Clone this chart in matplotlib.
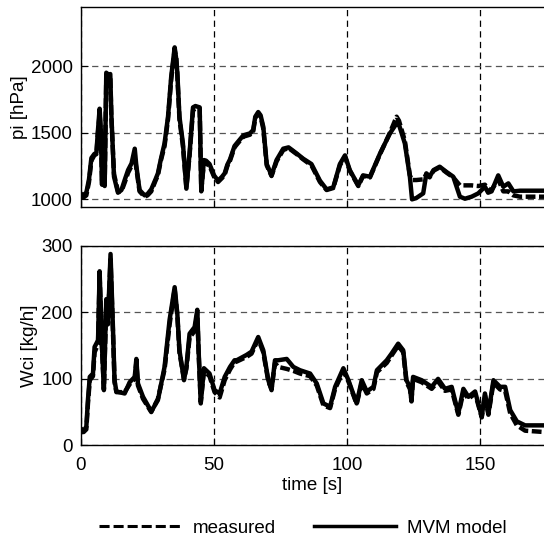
import matplotlib
matplotlib.use("Agg")
import matplotlib.pyplot as plt
from matplotlib.lines import Line2D

# ---------------- data ----------------
t_pi = [0, 1, 2, 3, 3.9, 5, 5.8, 6.3, 7, 7.5, 7.9, 8.4, 8.9, 9.5, 10.3, 11, 11.4, 12.4,
        13.9, 15.2, 16.5, 17.7, 19, 20.2, 20.8, 22, 23.9, 25, 26.4, 28, 28.9, 30, 31.4,
        32.7, 33.9, 35.2, 35.8, 36.2, 37, 38.3, 39.6, 40.8, 42.1, 43, 44.6, 45.2, 46.2,
        47, 48.3, 50, 51.5, 53, 54, 55, 56, 57.7, 58.5, 61, 63.5, 64.7, 65.5, 66.6,
        67.5, 68.5, 69.8, 71.6, 73.5, 76, 78, 81, 83.5, 86.6, 89.8, 92.3, 94.8, 97.3,
        99.2, 101, 104.2, 106, 108.6, 112.4, 116.1, 118.6, 119.5, 121.7, 123.6, 124.4,
        126, 128.6, 129.8, 131, 132.5, 134.8, 137.4, 139.9, 142.4, 144.3, 146.8, 149.3,
        151.8, 153, 154.3, 156.8, 158.7, 160.6, 162.5, 165, 174]
pi_model = [1040, 1035, 1050, 1150, 1310, 1340, 1350, 1500, 1680, 1500, 1110, 1400, 1100,
            1950, 1930, 1940, 1640, 1170, 1050, 1070, 1150, 1220, 1270, 1380, 1250, 1070,
            1030, 1040, 1075, 1150, 1195, 1300, 1420, 1620, 1920, 2140, 2050, 1950, 1620,
            1420, 1080, 1345, 1690, 1700, 1690, 1060, 1295, 1290, 1265, 1180, 1140, 1170,
            1195, 1260, 1300, 1400, 1420, 1480, 1495, 1520, 1620, 1655, 1630, 1545, 1265,
            1180, 1295, 1380, 1390, 1345, 1305, 1265, 1140, 1075, 1090, 1265, 1330, 1220,
            1105, 1180, 1170, 1345, 1495, 1570, 1560, 1420, 1170, 1000, 1010, 1045, 1195,
            1170, 1220, 1245, 1205, 1170, 1020, 1005, 1020, 1045, 1095, 1050, 1060, 1180,
            1095, 1120, 1060, 1065, 1065]
pi_meas = [1020, 1015, 1030, 1130, 1290, 1330, 1340, 1480, 1640, 1480, 1120, 1380, 1110,
           1920, 1940, 1930, 1620, 1190, 1060, 1060, 1130, 1200, 1250, 1330, 1230, 1060,
           1020, 1030, 1060, 1140, 1180, 1290, 1400, 1600, 1900, 2120, 2060, 1930, 1600,
           1400, 1090, 1330, 1670, 1680, 1680, 1070, 1280, 1270, 1250, 1170, 1130, 1160,
           1185, 1250, 1290, 1390, 1410, 1470, 1485, 1510, 1610, 1645, 1620, 1530, 1255,
           1175, 1285, 1370, 1385, 1340, 1300, 1255, 1130, 1070, 1085, 1255, 1320, 1215,
           1100, 1175, 1165, 1340, 1500, 1620, 1590, 1440, 1180, 1145, 1145, 1150, 1190,
           1165, 1215, 1240, 1200, 1165, 1105, 1105, 1105, 1100, 1110, 1080, 1070, 1150,
           1060, 1060, 1030, 1020, 1020]

t_w = [0, 1, 2, 2.6, 3.3, 4.5, 5.1, 6.4, 7, 7.5, 7.9, 8.6, 9.5, 10.1, 11.1, 12, 12.6, 13.3,
       16.4, 18.3, 20.2, 20.8, 21.4, 23.3, 26.4, 28.9, 31.4, 33.3, 35.2, 36.2, 37, 38.7,
       39.6, 40.8, 42.7, 43.7, 44.2, 45, 46.2, 48.3, 50.2, 52.1, 54, 56, 57.7, 58.5, 62.2,
       64.1, 66.6, 68.5, 70.4, 71.6, 72.9, 74.1, 77.3, 79.8, 82.3, 86.1, 88.6, 91.1, 93.6,
       95.5, 98.6, 100.5, 103.6, 105.5, 107.4, 109.9, 111.2, 114.9, 116.7, 119.2, 121.1,
       122.3, 123.6, 124.2, 124.8, 128, 131.8, 134.2, 136.8, 139.3, 141.8, 143.7, 145.6,
       148.1, 150.6, 151.8, 153.1, 155, 157.5, 159.4, 161.3, 163.8, 166.9, 174]
w_model = [25, 22, 28, 68, 103, 108, 148, 158, 262, 200, 148, 83, 220, 185, 288, 178, 98, 81,
           78, 95, 103, 130, 93, 73, 51, 68, 118, 189, 238, 198, 143, 98, 118, 168, 178, 204,
           143, 63, 116, 108, 83, 78, 103, 118, 128, 128, 136, 141, 163, 143, 98, 83, 128, 128,
           130, 118, 113, 108, 93, 63, 58, 88, 116, 98, 63, 98, 81, 88, 113, 128, 138, 153,
           143, 98, 88, 66, 103, 98, 88, 100, 85, 88, 48, 85, 73, 81, 43, 78, 48, 98, 88, 88,
           53, 36, 30, 30]
w_meas = [20, 20, 24, 62, 98, 104, 140, 152, 255, 196, 145, 85, 212, 182, 280, 172, 95, 80,
          80, 92, 100, 125, 90, 70, 50, 70, 114, 182, 235, 195, 140, 100, 115, 162, 172, 198,
          140, 65, 112, 104, 80, 72, 98, 114, 125, 126, 133, 138, 160, 140, 96, 85, 124, 118,
          115, 112, 108, 104, 90, 60, 56, 85, 112, 96, 62, 94, 78, 85, 110, 124, 135, 150,
          140, 95, 85, 68, 100, 95, 85, 96, 82, 84, 46, 80, 70, 78, 42, 75, 46, 94, 84, 82,
          48, 30, 22, 20]

x_ticks = [0, 50, 100, 150]
pi_ticks = [1000, 1500, 2000]
w_ticks = [0, 100, 200, 300]

# ---------------- figure ----------------
plt.rcParams['font.family'] = ['Liberation Sans', 'DejaVu Sans']
fig = plt.figure(figsize=(5.44, 5.36), dpi=100)
W, H = 544, 536
ax1 = fig.add_axes([81 / W, 1 - 206.7 / H, 1 - 81 / W, (206.7 - 6.7) / H])
ax2 = fig.add_axes([81 / W, 1 - 445.3 / H, 1 - 81 / W, (445.3 - 246) / H])

fs = 13.5
for ax in (ax1, ax2):
    ax.set_xlim(0, 174)
    ax.set_xticks(x_ticks)
    ax.spines['right'].set_visible(False)
    for s in ('left', 'top', 'bottom'):
        ax.spines[s].set_linewidth(1.0)
    ax.tick_params(direction='in', length=5, labelsize=fs, width=0.8)
    ax.tick_params(axis='x', pad=8.5)
    ax.tick_params(axis='y', pad=6)
    ax.grid(True, axis='y', linestyle=(0, (5, 3.5)), color='#555555', linewidth=0.9)
    ax.grid(True, axis='x', linestyle=(0, (5, 3.5)), color='black', linewidth=0.9)
    ax.set_axisbelow(True)

ax1.plot(t_pi, pi_meas, color='black', linewidth=3.2, linestyle=(0, (2.2, 0.8)))
ax1.plot(t_pi, pi_model, color='black', linewidth=3.2)
ax1.set_ylim(945, 2445)
ax1.set_yticks(pi_ticks)
ax1.tick_params(labelbottom=False)
ax1.set_ylabel('pi [hPa]', fontsize=fs, labelpad=2)

ax2.plot(t_w, w_meas, color='black', linewidth=3.2, linestyle=(0, (2.2, 0.8)))
ax2.plot(t_w, w_model, color='black', linewidth=3.2)
ax2.set_ylim(0, 300)
ax2.set_yticks(w_ticks)
ax2.set_ylabel('Wci [kg/h]', fontsize=fs, labelpad=2)
ax2.set_xlabel('time [s]', fontsize=fs, va='center')
ax2.xaxis.set_label_coords(0.5, -(485 - 445.3) / (445.3 - 246))

handles = [Line2D([], [], color='black', linewidth=2.2, linestyle=(0, (3.3, 1.3))),
           Line2D([], [], color='black', linewidth=2.5)]
fig.legend(handles, ['measured', 'MVM model'], loc='center', bbox_to_anchor=(303 / W, 1 - 528 / H),
           ncol=2, frameon=False, fontsize=fs, handlelength=4.4, columnspacing=2.0,
           handletextpad=0.6, borderpad=0, borderaxespad=0)

fig.savefig('out.png', dpi=100)
